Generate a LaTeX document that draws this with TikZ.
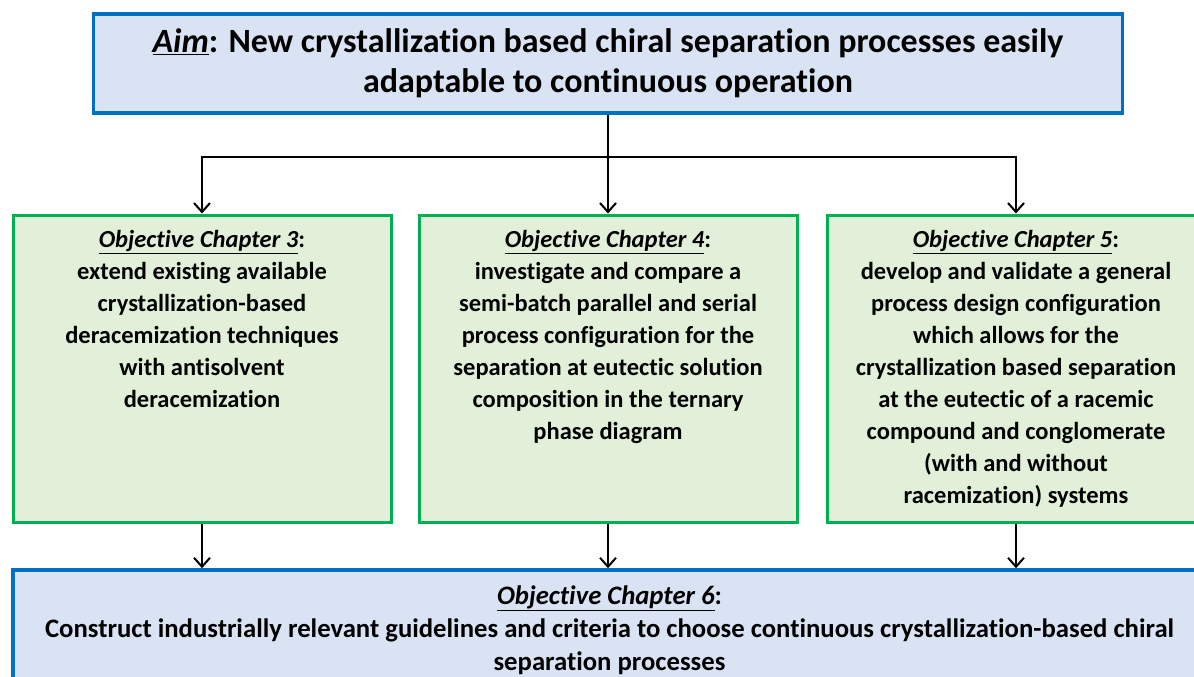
\documentclass[tikz,border=0pt]{standalone}
\usepackage{fontspec}
\setmainfont{Carlito}[Ligatures=NoCommon]
\usetikzlibrary{arrows.meta}
\definecolor{aimblue}{HTML}{0070C0}
\definecolor{aimfill}{HTML}{DAE3F3}
\definecolor{objgreen}{HTML}{00B050}
\definecolor{objfill}{HTML}{E2F0D9}
\tikzset{
  bluebox/.style={draw=aimblue, fill=aimfill, line width=3.5pt, inner sep=0pt},
  greenbox/.style={draw=objgreen, fill=objfill, line width=3pt, inner sep=0pt,
    minimum width=378pt, minimum height=307pt},
  objtext/.style={inner sep=0pt, align=center, font=\fontsize{24.5}{32}\selectfont\bfseries},
  link/.style={line width=2pt, draw=black},
  arr/.style={link, -{Straight Barb[length=9pt,width=16pt,line width=2pt]}}
}
\begin{document}
\begin{tikzpicture}[x=1pt,y=-1pt]
\useasboundingbox (0,0) rectangle (1194,677);
\clip (0,0) rectangle (1194,677);
\fill[white] (0,0) rectangle (1194,677);

% aim
\node[bluebox, minimum width=1029pt, minimum height=99pt, align=center,
  font=\fontsize{34}{40}\selectfont\bfseries] (aim) at (608,63.5)
  {\underline{\textit{Aim}}: New crystallization based chiral separation processes easily\\
   adaptable to continuous operation};

% chapter objectives
\node[greenbox] (o3) at (202,368.5) {};
\node[greenbox] (o4) at (608,368.5) {};
\node[greenbox] (o5) at (1016,368.5) {};

\node[objtext, anchor=north] (t3) at ([yshift=-17pt]o3.north)
  {\underline{\textit{Objective Chapter 3}}:\\
   extend existing available\\
   crystallization-based\\
   deracemization techniques\\
   with antisolvent\\
   deracemization};
\node[objtext, anchor=north] (t4) at ([yshift=-17pt]o4.north)
  {\underline{\textit{Objective Chapter 4}}:\\
   investigate and compare a\\
   semi-batch parallel and serial\\
   process configuration for the\\
   separation at eutectic solution\\
   composition in the ternary\\
   phase diagram};
\node[objtext, anchor=north] (t5) at ([yshift=-17pt]o5.north)
  {\underline{\textit{Objective Chapter 5}}:\\
   develop and validate a general\\
   process design configuration\\
   which allows for the\\
   crystallization based separation\\
   at the eutectic of a racemic\\
   compound and conglomerate\\
   (with and without\\
   racemization) systems};

% final objective
\node[bluebox, minimum width=1193pt, minimum height=120pt, align=center,
  font=\fontsize{26.7}{33}\selectfont\bfseries] (o6) at (609.5,630)
  {\underline{\textit{Objective Chapter 6}}:\\
   Construct industrially relevant guidelines and criteria to choose continuous crystallization-based chiral\\
   separation processes};

% connectors
\coordinate (split) at (608,157);
\draw[link] (aim.south) -- (split);
\draw[arr] (split) -| (o3.north);
\draw[arr] (split) -- (o4.north);
\draw[arr] (split) -| (o5.north);
\draw[arr] (o3.south) -- (o3.south |- o6.north);
\draw[arr] (o4.south) -- (o4.south |- o6.north);
\draw[arr] (o5.south) -- (o5.south |- o6.north);
\end{tikzpicture}
\end{document}
